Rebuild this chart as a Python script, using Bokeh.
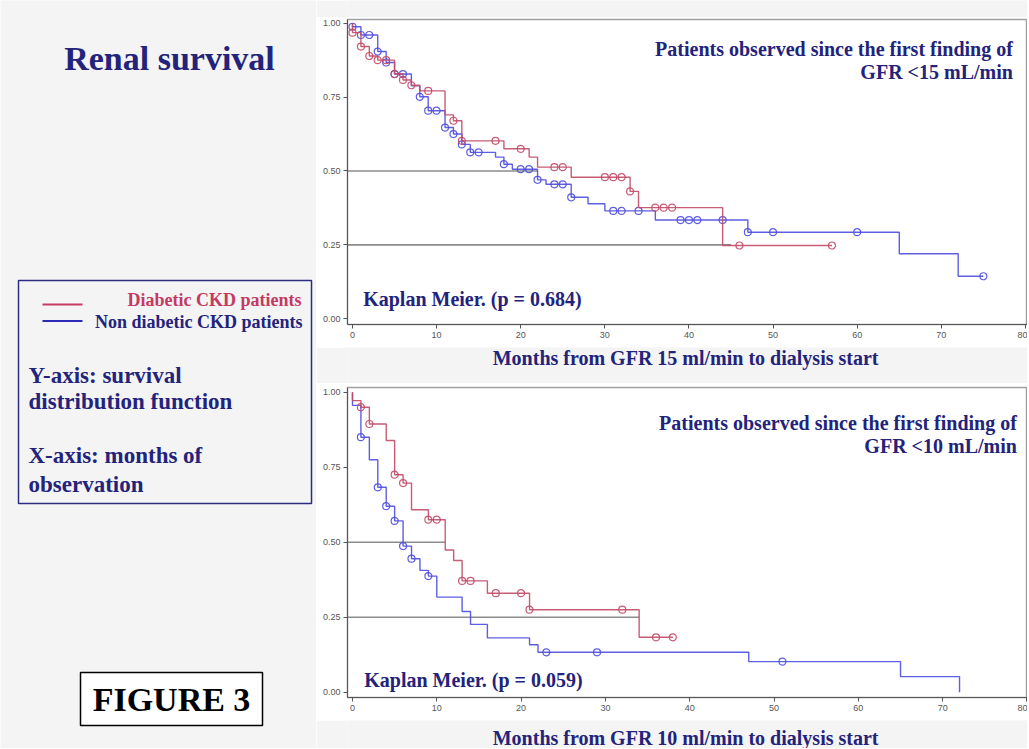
import numpy as np
from bokeh.plotting import figure
from bokeh.layouts import row, column
from bokeh.models import Label, Range1d, FixedTicker, NumeralTickFormatter, BoxAnnotation
from bokeh.embed import file_html
from bokeh.resources import INLINE

# ---------------- data ----------------
month_ticks = [0, 10, 20, 30, 40, 50, 60, 70, 80]
surv_ticks = [0.0, 0.25, 0.50, 0.75, 1.00]

# Panel A: GFR < 15 mL/min
gfr15_diab_t = [0, 1, 2, 3, 5, 6, 7, 8, 11, 12, 13, 18, 21, 22, 26, 33, 34, 44]
gfr15_diab_s = [0.968, 0.921, 0.889, 0.875, 0.828, 0.808, 0.790, 0.771, 0.690, 0.670,
                0.602, 0.575, 0.547, 0.513, 0.479, 0.431, 0.376, 0.248]
gfr15_diab_cens = [0, 1, 2, 3, 4, 5, 6, 7, 9, 12, 13, 17, 20, 24, 25, 30, 31, 32, 33,
                   36, 37, 38, 46, 57]
gfr15_diab_end = 57

gfr15_nondiab_t = [0, 1, 3, 4, 5, 7, 8, 9, 11, 12, 13, 14, 17, 18, 19, 22, 23, 26, 28,
                   30, 36, 47, 65, 72]
gfr15_nondiab_s = [0.988, 0.960, 0.904, 0.867, 0.828, 0.788, 0.751, 0.704, 0.647, 0.625,
                   0.590, 0.563, 0.547, 0.523, 0.506, 0.470, 0.455, 0.411, 0.389, 0.365,
                   0.334, 0.293, 0.220, 0.144]
gfr15_nondiab_cens = [0, 1, 2, 3, 4, 5, 6, 8, 9, 10, 11, 12, 13, 14, 15, 18, 20, 21, 22,
                      24, 25, 26, 31, 32, 34, 39, 40, 41, 44, 47, 50, 60, 75]
gfr15_nondiab_end = 75

gfr15_ref_levels = [0.50, 0.25]
gfr15_ref_ends = [22, 45]

# Panel B: GFR < 10 mL/min
gfr10_diab_t = [0, 1, 2, 4, 5, 6, 7, 9, 11, 12, 13, 16, 21, 34]
gfr10_diab_s = [0.972, 0.950, 0.894, 0.839, 0.725, 0.697, 0.608, 0.575, 0.474, 0.439,
                0.371, 0.330, 0.275, 0.183]
gfr10_diab_cens = [1, 2, 5, 6, 9, 10, 13, 14, 17, 20, 21, 32, 36, 38]
gfr10_diab_end = 38

gfr10_nondiab_t = [0, 1, 2, 3, 4, 5, 6, 7, 8, 9, 10, 13, 14, 16, 21, 22, 47, 65, 72]
gfr10_nondiab_s = [0.956, 0.850, 0.775, 0.683, 0.620, 0.571, 0.487, 0.445, 0.406, 0.387,
                   0.317, 0.269, 0.226, 0.181, 0.158, 0.133, 0.102, 0.052, 0.0]
gfr10_nondiab_cens = [1, 3, 4, 5, 6, 7, 9, 23, 29, 51]
gfr10_nondiab_end = 72

gfr10_ref_levels = [0.50, 0.25]
gfr10_ref_ends = [11, 34]

# ---------------- style ----------------
BG = "#f4f4f5"
NAVY = "#23237b"
CRIMSON = "#c43a60"
RED = "#c24a66"
BLUE = "#4d4de0"
SERIF = "Liberation Serif"
SANS = "Liberation Sans"


def canvas(w, h, x0, y0):
    p = figure(width=w, height=h, x_range=Range1d(x0, x0 + w), y_range=Range1d(y0 + h, y0),
               toolbar_location=None, output_backend="svg", x_axis_type=None,
               y_axis_type=None, min_border=0)
    p.outline_line_color = None
    p.background_fill_color = BG
    p.border_fill_color = BG
    return p


def km_fig(h, bl, bt, bb, xr, yr):
    p = figure(width=711, height=h, x_range=Range1d(*xr), y_range=Range1d(*yr),
               toolbar_location=None, output_backend="svg",
               min_border_left=bl, min_border_right=0, min_border_top=bt,
               min_border_bottom=bb)
    p.background_fill_color = "white"
    p.border_fill_color = "white"
    p.outline_line_color = "#a0a0a0"
    p.outline_line_width = 1.5
    p.xgrid.visible = False
    p.ygrid.visible = False
    p.xaxis.ticker = FixedTicker(ticks=month_ticks)
    p.yaxis.ticker = FixedTicker(ticks=surv_ticks)
    p.yaxis.formatter = NumeralTickFormatter(format="0.00")
    for ax in (p.xaxis, p.yaxis):
        ax.axis_line_color = "#555555"
        ax.major_tick_line_color = "#555555"
        ax.major_tick_out = 4
        ax.major_tick_in = 0
        ax.minor_tick_line_color = None
        ax.major_label_text_font = SANS
        ax.major_label_text_font_size = "9px"
        ax.major_label_text_color = "#555555"
        ax.major_label_standoff = 3
    return p


def add_curve(p, times, surv, cens, end, color):
    xs = [0] + list(times) + [end]
    ys = [1.0] + list(surv) + [surv[-1]]
    p.step(xs, ys, mode="after", line_color=color, line_width=1.4, line_alpha=0.9)
    t = np.asarray(times)
    s = np.asarray(surv)
    cy = []
    for c in cens:
        i = np.searchsorted(t, c, side="right") - 1
        cy.append(1.0 if i < 0 else float(s[i]))
    p.scatter(list(cens), cy, marker="circle", size=7, fill_color=None,
              line_color=color, line_width=1.2, line_alpha=0.9)


def add_refs(p, x0, levels, ends):
    p.segment(x0=[x0] * len(levels), y0=levels, x1=ends, y1=levels,
              line_color="#8c8c8c", line_width=1.6)


def txt(p, x, y, text, size, color=NAVY, align="left", baseline="middle", font=SERIF):
    p.add_layout(Label(x=x, y=y, text=text, text_font=font, text_font_size=size,
                       text_font_style="bold", text_color=color, text_align=align,
                       text_baseline=baseline))


# ---------------- left panel ----------------
left = canvas(316, 748, 0, 0)
txt(left, 169, 58, "Renal survival", "34px", align="center")
left.add_layout(BoxAnnotation(left=18, right=311, top=280, bottom=503, fill_color=None,
                              line_color="#2c2c80", line_alpha=1.0, line_width=1.5))
left.line([42, 82], [304, 304], line_color=CRIMSON, line_width=2)
left.line([42, 82], [320.5, 320.5], line_color="#2a2ab8", line_width=2)
txt(left, 301, 299, "Diabetic CKD patients", "18px", color=CRIMSON, align="right")
txt(left, 302, 321, "Non diabetic CKD patients", "18px", align="right")
txt(left, 28, 375, "Y-axis: survival", "23px")
txt(left, 28, 401, "distribution function", "23px")
txt(left, 28, 455, "X-axis: months of", "23px")
txt(left, 28, 484, "observation", "23px")
left.add_layout(BoxAnnotation(left=80, right=262, top=672, bottom=725, fill_color="white",
                              fill_alpha=1.0, line_color="black", line_alpha=1.0,
                              line_width=1.5))
txt(left, 171, 699, "FIGURE 3", "34px", color="black", align="center")

# ---------------- right column ----------------
top_pad = canvas(711, 17, 316, 0)

xa = (-0.594, 80.24)
ya = (-0.0193, 1.0125)
pa = km_fig(330, 31, 2, 23, xa, ya)
add_refs(pa, xa[0], gfr15_ref_levels, gfr15_ref_ends)
add_curve(pa, gfr15_nondiab_t, gfr15_nondiab_s, gfr15_nondiab_cens, gfr15_nondiab_end, BLUE)
add_curve(pa, gfr15_diab_t, gfr15_diab_s, gfr15_diab_cens, gfr15_diab_end, RED)
txt(pa, 78.5, 0.913, "Patients observed since the first finding of", "20px", align="right")
txt(pa, 78.5, 0.834, "GFR <15 mL/min", "20px", align="right")
txt(pa, 1.27, 0.068, "Kaplan Meier. (p = 0.684)", "20px")

strip1 = canvas(711, 36, 316, 347)
txt(strip1, 669.5, 357, "Months from GFR 15 ml/min to dialysis start", "20px", align="center")

xb = (-0.592, 80.06)
yb = (-0.0177, 1.0157)
pb = km_fig(337, 30, 4, 23, xb, yb)
add_refs(pb, xb[0], gfr10_ref_levels, gfr10_ref_ends)
add_curve(pb, gfr10_nondiab_t, gfr10_nondiab_s, gfr10_nondiab_cens, gfr10_nondiab_end, BLUE)
add_curve(pb, gfr10_diab_t, gfr10_diab_s, gfr10_diab_cens, gfr10_diab_end, RED)
txt(pb, 78.8, 0.897, "Patients observed since the first finding of", "20px", align="right")
txt(pb, 78.8, 0.820, "GFR <10 mL/min", "20px", align="right")
txt(pb, 1.39, 0.039, "Kaplan Meier. (p = 0.059)", "20px")

strip2 = canvas(711, 28, 316, 720)
txt(strip2, 669.5, 737, "Months from GFR 10 ml/min to dialysis start", "20px", align="center")

right = column(top_pad, pa, strip1, pb, strip2, spacing=0)
layout = row(left, right, spacing=0)

open("out.html", "w").write(file_html(layout, INLINE))
